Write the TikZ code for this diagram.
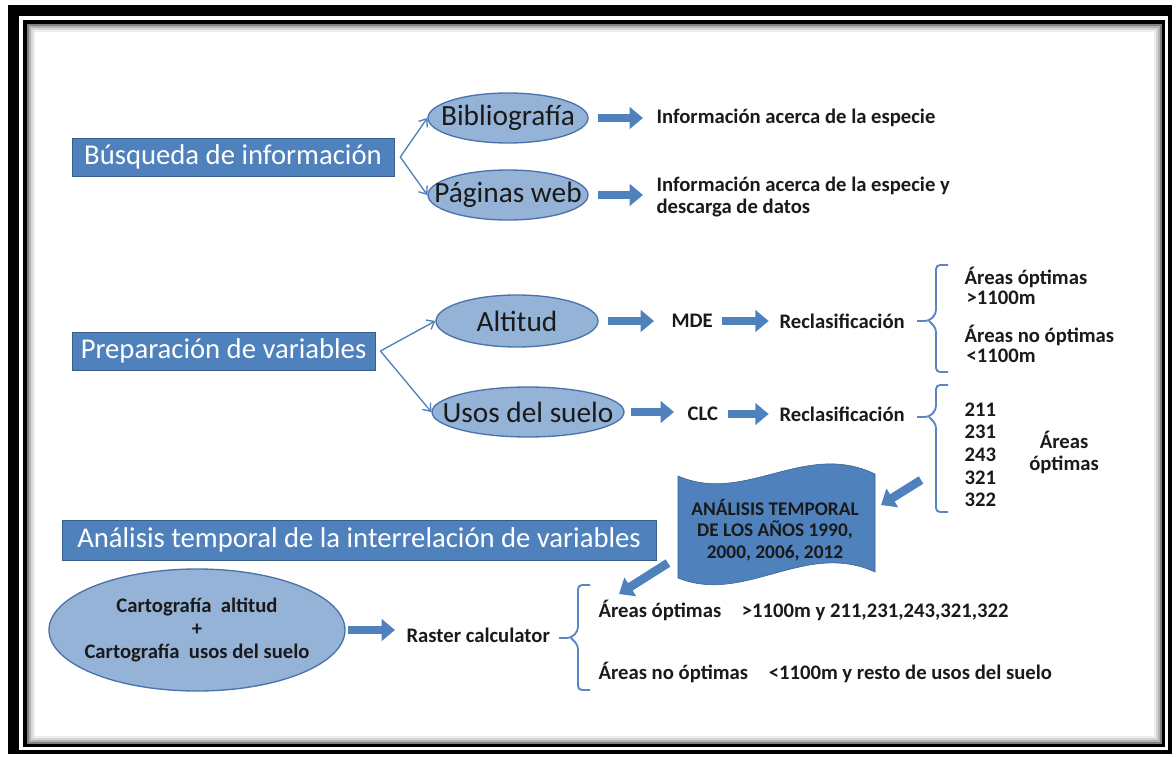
\documentclass[tikz,border=0pt]{standalone}
\usepackage{fontspec}
\setmainfont{Carlito}
\usetikzlibrary{shapes.geometric,arrows.meta}
\definecolor{boxblue}{HTML}{4F81BD}
\definecolor{boxedge}{HTML}{385D8A}
\definecolor{ellblue}{HTML}{95B3D7}
\definecolor{elledge}{HTML}{4A72AC}
\definecolor{bracecol}{HTML}{5B86C2}
\definecolor{txt}{HTML}{1A1A1A}

\begin{document}
\begin{tikzpicture}[x=0.75pt,y=-0.75pt,
    bluebox/.style={fill=boxblue, draw=boxedge, text=white, font=\fontsize{21.5}{24}\selectfont, minimum height=28.5pt, inner sep=0pt},
    oval/.style={ellipse, fill=ellblue, draw=elledge, line width=1pt, text=txt, font=\fontsize{22}{24}\selectfont, inner xsep=-30pt, inner ysep=-8pt},
    smalltext/.style={text=txt, font=\bfseries\fontsize{15.5}{16.5}\selectfont, inner sep=1pt, anchor=west, align=left},
    link/.style={draw=boxblue, line width=1pt, -{Straight Barb[length=5pt,width=8pt]}},
    fatarrow/.style={draw=boxblue, line width=6.5pt, -{Triangle[length=10pt,width=16pt]}},
    bracket/.style={draw=bracecol, line width=1.4pt, rounded corners=3pt}]

    \useasboundingbox (0,0) rectangle (1176,756);

    % frame
    \fill[black] (8,5) rectangle (1172,754);
    \fill[white] (19,16) rectangle (1168,750);
    \fill[black] (23,20) rectangle (1165,747);
    \foreach \i/\s in {0/50,2/30,4/16,6/7}
        \fill[black!\s] (27+\i,24+\i) rectangle (1162-\i,744-\i);
    \fill[white] (35,32) rectangle (1154,736);

    % busqueda
    \node[bluebox, minimum width=241.5pt] (bus) at (233,157) {Búsqueda de información};
    \node[oval, minimum width=120pt, minimum height=37.5pt] (bib) at (508,118) {Bibliografía};
    \node[oval, minimum width=120pt, minimum height=37.5pt] (web) at (508,195) {Páginas web};
    \coordinate (busfork) at ([xshift=4.5pt]bus.east);
    \draw[link] (busfork) -- (bib.west);
    \draw[link] (busfork) -- (web.west);

    \node[smalltext] (info1) at (655,118) {Información acerca de la especie};
    \node[smalltext] (info2) at (655,197) {Información acerca de la especie y\\descarga de datos};
    \draw[fatarrow, shorten <=7pt, shorten >=9pt] (bib.east) -- (bib.east -| info1.west);
    \draw[fatarrow, shorten <=7pt, shorten >=9pt] (web.east) -- (web.east -| info2.west);

    % preparacion
    \node[bluebox, minimum width=227pt] (prep) at (223.5,351) {Preparación de variables};
    \node[oval, minimum width=121.5pt, minimum height=39pt] (alt) at (517,321) {Altitud};
    \node[oval, minimum width=144pt, minimum height=37.5pt] (usos) at (528,412) {Usos del suelo};
    \coordinate (prepfork) at ([xshift=4pt]prep.east);
    \draw[link] (prepfork) -- (alt.west);
    \draw[link] (prepfork) -- (usos.west);

    \node[smalltext] (mde) at (670,321) {MDE};
    \node[smalltext] (recl1) at (778,321) {Reclasificación};
    \node[smalltext] (clc) at (686,414) {CLC};
    \node[smalltext] (recl2) at (778,414) {Reclasificación};
    \draw[fatarrow, shorten <=7pt, shorten >=12pt] (alt.east) -- (alt.east -| mde.west);
    \draw[fatarrow, shorten <=6pt, shorten >=7pt] (mde.east) -- (mde.east -| recl1.west);
    \draw[fatarrow, shorten <=5pt, shorten >=9pt] (usos.east) -- (usos.east -| clc.west);
    \draw[fatarrow, shorten <=6pt, shorten >=7pt] (clc.east) -- (clc.east -| recl2.west);

    % brackets
    \draw[bracket] (948,265) -- (936,265) -- (936,314) -- (929,321) -- (917,321);
    \draw[bracket] (929,321) -- (936,328) -- (936,372) -- (948,372);
    \draw[bracket] (948,385) -- (936,385) -- (936,410) -- (929,417) -- (917,417);
    \draw[bracket] (929,417) -- (936,424) -- (936,512) -- (948,512);

    \node[smalltext] (opt1) at (963,277) {Áreas óptimas};
    \node[smalltext] (gt1) at (965,298) {>1100m};
    \node[smalltext] (nopt1) at (963,335) {Áreas no óptimas};
    \node[smalltext] (lt1) at (965,356) {<1100m};

    \foreach \c [count=\i] in {211,231,243,321,322}
        \node[smalltext] (code\c) at (963,{387+22.6*\i}) {\c};
    \node[smalltext, anchor=center, align=center] (opt2) at (1064,452) {Áreas\\óptimas};

    % temporal analysis
    \fill[boxblue, draw=boxedge] (678,476) .. controls (745,505) and (805,440) .. (875,474)
        -- (875,572) .. controls (805,540) and (745,605) .. (678,578) -- cycle;
    \node[smalltext, anchor=center, align=center, font=\bfseries\fontsize{14.5}{16}\selectfont] (doc) at (775,530)
        {ANÁLISIS TEMPORAL\\DE LOS AÑOS 1990,\\2000, 2006, 2012};
    \coordinate (t1) at (921,480);
    \coordinate (h1) at (881,505);
    \draw[fatarrow] (t1) -- (h1);

    \node[bluebox, minimum width=445.5pt, minimum height=30pt] (anal) at (359,540)
        {Análisis temporal de la interrelación de variables};
    \coordinate (t2) at (668,563);
    \coordinate (h2) at (619,594);
    \draw[fatarrow] (t2) -- (h2);

    \node[oval, minimum width=222pt, minimum height=91.5pt, align=center,
        font=\bfseries\fontsize{15.5}{17.6}\selectfont] (carto) at (197,630)
        {Cartografía\ \ altitud\\+\\Cartografía\ \ usos del suelo};
    \node[smalltext] (raster) at (405,635) {Raster calculator};
    \draw[fatarrow, shorten <=2pt, shorten >=7.5pt] (carto.east) -- (carto.east -| raster.west);

    \draw[bracket] (590,585) -- (578,585) -- (578,631) -- (571,638) -- (559,638);
    \draw[bracket] (571,638) -- (578,645) -- (578,690) -- (590,690);

    \node[smalltext] (res1) at (597,610) {Áreas óptimas\hspace{1em}>1100m y 211,231,243,321,322};
    \node[smalltext] (res2) at (597,672) {Áreas no óptimas\hspace{1em}<1100m y resto de usos del suelo};

\end{tikzpicture}
\end{document}
